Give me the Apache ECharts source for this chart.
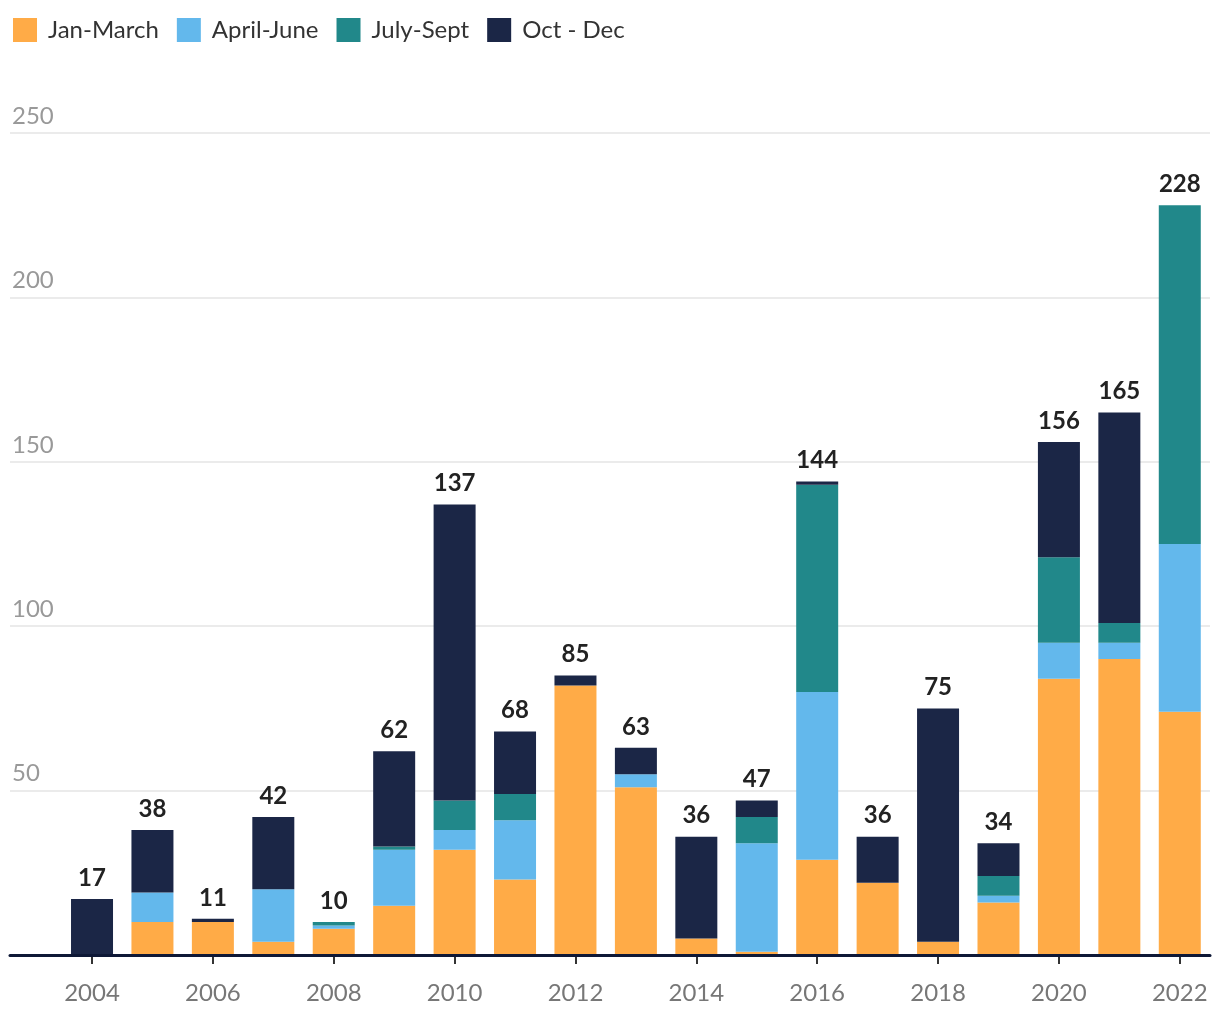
<!DOCTYPE html>
<html>
<head>
<meta charset="utf-8">
<script src="https://cdn.jsdelivr.net/npm/echarts@6/dist/echarts.min.js"></script>
<style>
html,body{margin:0;padding:0;background:#fff;}
#chart{width:1220px;height:1020px;}
</style>
</head>
<body>
<div id="chart"></div>
<script>
var years = ['2004','2005','2006','2007','2008','2009','2010','2011','2012','2013','2014','2015','2016','2017','2018','2019','2020','2021','2022'];
var janMarch  = [0,10,10,4,8,15,32,23,82,51,5,1,29,22,4,16,84,90,74];
var aprilJune = [0,9,0,16,1,17,6,18,0,4,0,33,51,0,0,2,11,5,51];
var julySept  = [0,0,0,0,1,1,9,8,0,0,0,8,63,0,0,6,26,6,103];
var octDec    = [17,19,1,22,0,29,90,19,3,8,31,5,1,14,71,10,35,64,0];
var totals    = [17,38,11,42,10,62,137,68,85,63,36,47,144,36,75,34,156,165,228];

var FONT = 'Lato';
var chart = echarts.init(document.getElementById('chart'));
var colors = ['#FFAB47','#63B8EC','#21888A','#1B2646'];
var names = ['Jan-March','April-June','July-Sept','Oct - Dec'];
var seriesData = [janMarch, aprilJune, julySept, octDec];

var series = seriesData.map(function(arr, k){
  return {
    name: names[k], type:'bar', stack:'q', barWidth:42,
    xAxisIndex:0, yAxisIndex:0,
    itemStyle:{color:colors[k]},
    data: arr
  };
});
series.push({
  name:'Total', type:'bar', stack:'q', barWidth:42,
  xAxisIndex:0, yAxisIndex:0,
  itemStyle:{color:'rgba(0,0,0,0)'},
  data: years.map(function(){ return 0; }),
  label:{
    show:true, position:'top', distance:9,
    fontFamily:FONT, fontSize:24, fontWeight:'bold', color:'#222',
    formatter:function(p){ return totals[p.dataIndex]; }
  },
  silent:true
});

chart.setOption({
  animation:false,
  color: colors,
  textStyle:{fontFamily:FONT},
  legend:{
    data:names, left:8, top:13, icon:'rect', itemWidth:24, itemHeight:24, itemGap:18,
    textStyle:{fontFamily:FONT, fontSize:24, color:'#333', padding:[0,0,0,6]}
  },
  grid:[
    {left:61.8, right:10, top:133, bottom:65, containLabel:false},
    {left:10, right:10, top:133, bottom:65, containLabel:false}
  ],
  xAxis:[
    {
      type:'category', data:years, gridIndex:0,
      axisLine:{show:false},
      axisTick:{show:true, interval:1, alignWithLabel:true, length:9, lineStyle:{color:'#333', width:2}},
      axisLabel:{interval:1, fontFamily:FONT, fontSize:24, color:'#777', margin:26}
    },
    {
      type:'value', gridIndex:1, min:0, max:1,
      splitLine:{show:false}, axisTick:{show:false}, axisLabel:{show:false},
      axisLine:{show:true, onZero:true, lineStyle:{color:'#0E1836', width:3}},
      z:5
    }
  ],
  yAxis:[
    {
      type:'value', gridIndex:0, min:0, max:250, interval:50,
      show:false, splitLine:{show:false}
    },
    {
      type:'value', gridIndex:1, min:0, max:250, interval:50,
      axisLine:{show:false}, axisTick:{show:false},
      splitLine:{show:true, lineStyle:{color:'#E4E4E4', width:1.5}},
      axisLabel:{inside:true, showMinLabel:false, verticalAlign:'bottom', margin:2,
        padding:[0,0,5,0], fontFamily:FONT, fontSize:24, color:'#999'}
    }
  ],
  series: series
});
</script>
</body>
</html>
